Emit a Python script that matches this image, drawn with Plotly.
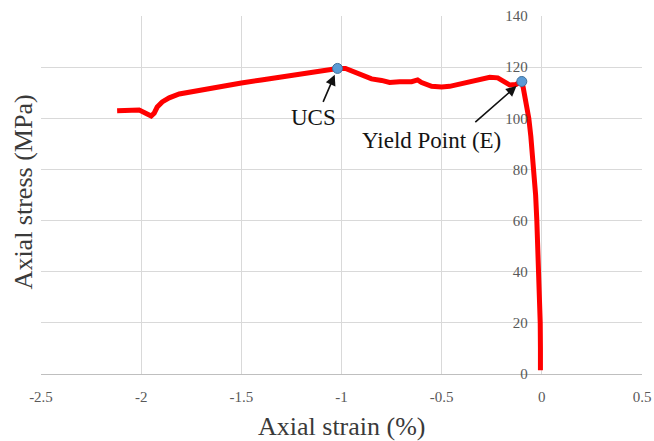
import plotly.graph_objects as go

# Stress-strain curve (axial strain in %, axial stress in MPa)
strain = [-2.12, -2.085, -2.05, -2.01, -1.98, -1.95, -1.935, -1.92, -1.895, -1.86,
          -1.81, -1.71, -1.575, -1.5, -1.4, -1.3, -1.2, -1.1, -1.02, -0.98,
          -0.95, -0.91, -0.85, -0.8, -0.76, -0.71, -0.65, -0.62, -0.6, -0.55,
          -0.5, -0.46, -0.4, -0.35, -0.3, -0.26, -0.22, -0.19, -0.16, -0.13,
          -0.1, -0.093, -0.085, -0.075, -0.065, -0.055, -0.046, -0.038, -0.031, -0.025,
          -0.02, -0.015, -0.011, -0.008, -0.007, -0.007]
stress = [102.9, 103.1, 102.9, 103.2, 102.1, 100.9, 102.0, 104.4, 106.4, 108.0,
          109.5, 111.0, 112.6, 113.8, 115.0, 116.3, 117.6, 118.8, 119.5, 119.5,
          118.6, 117.2, 115.4, 114.8, 114.0, 114.3, 114.3, 115.0, 114.0, 112.5,
          112.2, 112.5, 113.5, 114.8, 115.6, 116.0, 115.8, 114.5, 113.0, 113.2,
          114.4, 112.0, 108.5, 104.5, 100.0, 93.0, 85.0, 78.0, 70.0, 60.0,
          50.0, 40.0, 30.0, 20.0, 10.0, 1.5]

# Key points marked on the curve
point_names = ["UCS", "Yield Point (E)"]
point_strain = [-1.02, -0.1]
point_stress = [119.5, 114.4]

x_ticks = [-2.5, -2, -1.5, -1, -0.5, 0, 0.5]
x_tick_text = ["-2.5", "-2", "-1.5", "-1", "-0.5", "0", "0.5"]
y_ticks = [0, 20, 40, 60, 80, 100, 120, 140]

SERIF = "Liberation Serif, Times New Roman, serif"
GRID = "#d9d9d9"
TICK_COLOR = "#595959"

fig = go.Figure()
fig.add_trace(go.Scatter(
    x=strain, y=stress, mode="lines",
    line=dict(color="#ff0000", width=5),
    hoverinfo="skip", showlegend=False,
))
fig.add_trace(go.Scatter(
    x=point_strain, y=point_stress, mode="markers",
    marker=dict(size=10, color="#5b9bd5", line=dict(color="#41719c", width=1)),
    text=point_names, showlegend=False,
))

# Arrows pointing at the marked points, with their labels beneath
arrow_offsets = [(-15, 35), (-48, 42)]
label_shifts = [(-24, -49), (-90, -59)]
for name, px, py, (ax, ay), (sx, sy) in zip(point_names, point_strain, point_stress,
                                              arrow_offsets, label_shifts):
    fig.add_annotation(
        x=px, y=py, xref="x", yref="y", text="",
        showarrow=True, ax=ax, ay=ay, standoff=7,
        arrowhead=2, arrowsize=1.3, arrowwidth=1.6, arrowcolor="#111111",
    )
    fig.add_annotation(
        x=px, y=py, xref="x", yref="y", text=name, showarrow=False,
        xshift=sx, yshift=sy, xanchor="center", yanchor="middle",
        font=dict(family=SERIF, size=23, color="#141414"),
    )

# Axis titles
fig.add_annotation(
    x=0.5, y=-0.147, xref="paper", yref="paper", text="Axial strain (%)",
    showarrow=False, xanchor="center", yanchor="middle",
    font=dict(family=SERIF, size=26, color="#3a3a3a"),
)
fig.add_annotation(
    x=-0.03, y=0.51, xref="paper", yref="paper", text="Axial stress (MPa)",
    showarrow=False, textangle=-90, xanchor="center", yanchor="middle",
    font=dict(family=SERIF, size=26, color="#3a3a3a"),
)

x_min, x_max = -2.5, 0.5
y_axis_pos = (0 - x_min) / (x_max - x_min)

fig.update_layout(
    width=654, height=441,
    margin=dict(l=41, r=12, t=16, b=67, autoexpand=False),
    paper_bgcolor="white", plot_bgcolor="white",
    showlegend=False,
    xaxis=dict(
        range=[x_min, x_max], tickvals=x_ticks, ticktext=x_tick_text,
        showgrid=True, gridcolor=GRID, gridwidth=1,
        zeroline=False, showline=True, linecolor="#bfbfbf", linewidth=1,
        ticks="", ticklabelstandoff=9, automargin=False,
        tickfont=dict(family=SERIF, size=15, color=TICK_COLOR),
    ),
    yaxis=dict(
        range=[0, 140], tickvals=y_ticks,
        showgrid=True, gridcolor=GRID, gridwidth=1,
        zeroline=False, showline=False, automargin=False,
        anchor="free", position=y_axis_pos, side="left",
        ticks="", ticklabelstandoff=14,
        tickfont=dict(family=SERIF, size=15, color=TICK_COLOR),
    ),
)

fig.write_html("out.html")
